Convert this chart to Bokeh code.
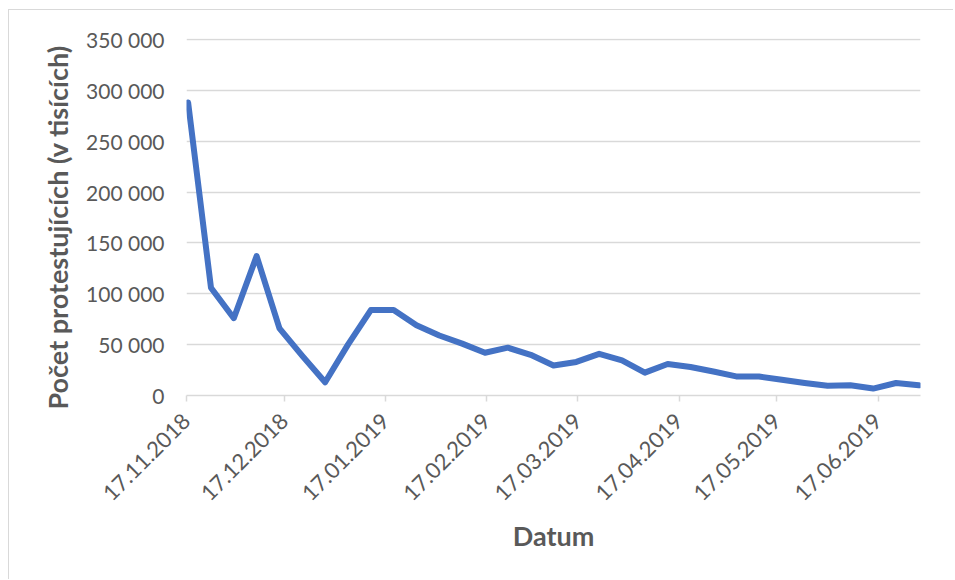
import pandas as pd
from bokeh.plotting import figure
from bokeh.models import FixedTicker, InlineStyleSheet, Title
from bokeh.embed import file_html
from bokeh.resources import INLINE

# --- data (weekly Saturdays, number of protesters) ---
dates = ["17.11.2018", "24.11.2018", "01.12.2018", "08.12.2018", "15.12.2018",
         "22.12.2018", "29.12.2018", "05.01.2019", "12.01.2019", "19.01.2019",
         "26.01.2019", "02.02.2019", "09.02.2019", "16.02.2019", "23.02.2019",
         "02.03.2019", "09.03.2019", "16.03.2019", "23.03.2019", "30.03.2019",
         "06.04.2019", "13.04.2019", "20.04.2019", "27.04.2019", "04.05.2019",
         "11.05.2019", "18.05.2019", "25.05.2019", "01.06.2019", "08.06.2019",
         "15.06.2019", "22.06.2019", "29.06.2019"]
protesters = [288000, 106000, 76000, 137000, 66000,
              39000, 13000, 50000, 84000, 84000,
              69000, 59000, 51000, 42000, 47000,
              40000, 29500, 33000, 41000, 34500,
              22500, 31000, 28000, 23600, 18800,
              18600, 15400, 12300, 9500, 10000,
              6800, 12300, 10000]

x_tick_labels = ["17.11.2018", "17.12.2018", "17.01.2019", "17.02.2019",
                 "17.03.2019", "17.04.2019", "17.05.2019", "17.06.2019"]
y_ticks = [0, 50000, 100000, 150000, 200000, 250000, 300000, 350000]
y_tick_labels = ["0", "50 000", "100 000", "150 000", "200 000",
                 "250 000", "300 000", "350 000"]
y_title = "Počet protestujících (v tisících)"
x_title = "Datum"
axis_start = "17.11.2018"
axis_end = "30.06.2019"

def ms(s):
    return pd.Timestamp(pd.to_datetime(s, format="%d.%m.%Y")).value / 1e6

DAY = 86400000.0
# Excel date axis: each point sits in the middle of its day
x = [ms(d) + DAY / 2 for d in dates]
x_ticks = [ms(d) for d in x_tick_labels]

GRAY_TXT = "#595959"
GRID = "#d9d9d9"
FONT = "Lato"

p = figure(width=945, height=570, output_backend="svg", toolbar_location=None,
           x_range=(ms(axis_start), ms(axis_end)), y_range=(0, 351000),
           min_border_left=177, min_border_right=34,
           min_border_top=28, min_border_bottom=185)
p.outline_line_color = None
p.background_fill_color = "white"
p.border_fill_color = "white"
p.stylesheets = [InlineStyleSheet(css=":host { margin-left: 8px; margin-top: 9px; border-left: 1px solid #d9d9d9; border-top: 1px solid #d9d9d9; }")]

p.line(x, protesters, line_color="#4472c4", line_width=6,
       line_join="round", line_cap="round")

# y axis
p.yaxis.ticker = FixedTicker(ticks=y_ticks)
p.yaxis.major_label_overrides = {t: l for t, l in zip(y_ticks, y_tick_labels)}
p.yaxis.axis_line_color = None
p.yaxis.major_tick_line_color = None
p.yaxis.minor_tick_line_color = None
p.yaxis.major_label_standoff = 16
p.yaxis.major_label_text_font = FONT
p.yaxis.major_label_text_font_size = "21px"
p.yaxis.major_label_text_color = GRAY_TXT

p.add_layout(Title(text=y_title, align="left", offset=-14, standoff=20,
                   text_font=FONT, text_font_style="bold", text_font_size="27px",
                   text_color=GRAY_TXT), "left")

# x axis
p.xaxis.ticker = FixedTicker(ticks=x_ticks)
p.xaxis.major_label_overrides = {t: l for t, l in zip(x_ticks, x_tick_labels)}
p.xaxis.major_label_orientation = 0.785398
p.xaxis.axis_line_color = GRID
p.xaxis.axis_line_width = 1.5
p.xaxis.major_tick_line_color = GRID
p.xaxis.major_tick_line_width = 1.5
p.xaxis.major_tick_out = 6
p.xaxis.major_tick_in = 0
p.xaxis.minor_tick_line_color = None
p.xaxis.major_label_standoff = 16
p.xaxis.major_label_text_font = FONT
p.xaxis.major_label_text_font_size = "22px"
p.xaxis.major_label_text_color = GRAY_TXT
p.xaxis.axis_label = x_title
p.xaxis.axis_label_text_font = FONT
p.xaxis.axis_label_text_font_style = "bold"
p.xaxis.axis_label_text_font_size = "27px"
p.xaxis.axis_label_text_color = GRAY_TXT
p.xaxis.axis_label_standoff = 8

p.xgrid.grid_line_color = None
p.ygrid.grid_line_color = GRID
p.ygrid.grid_line_width = 1.5

open("out.html", "w").write(file_html(p, INLINE))
